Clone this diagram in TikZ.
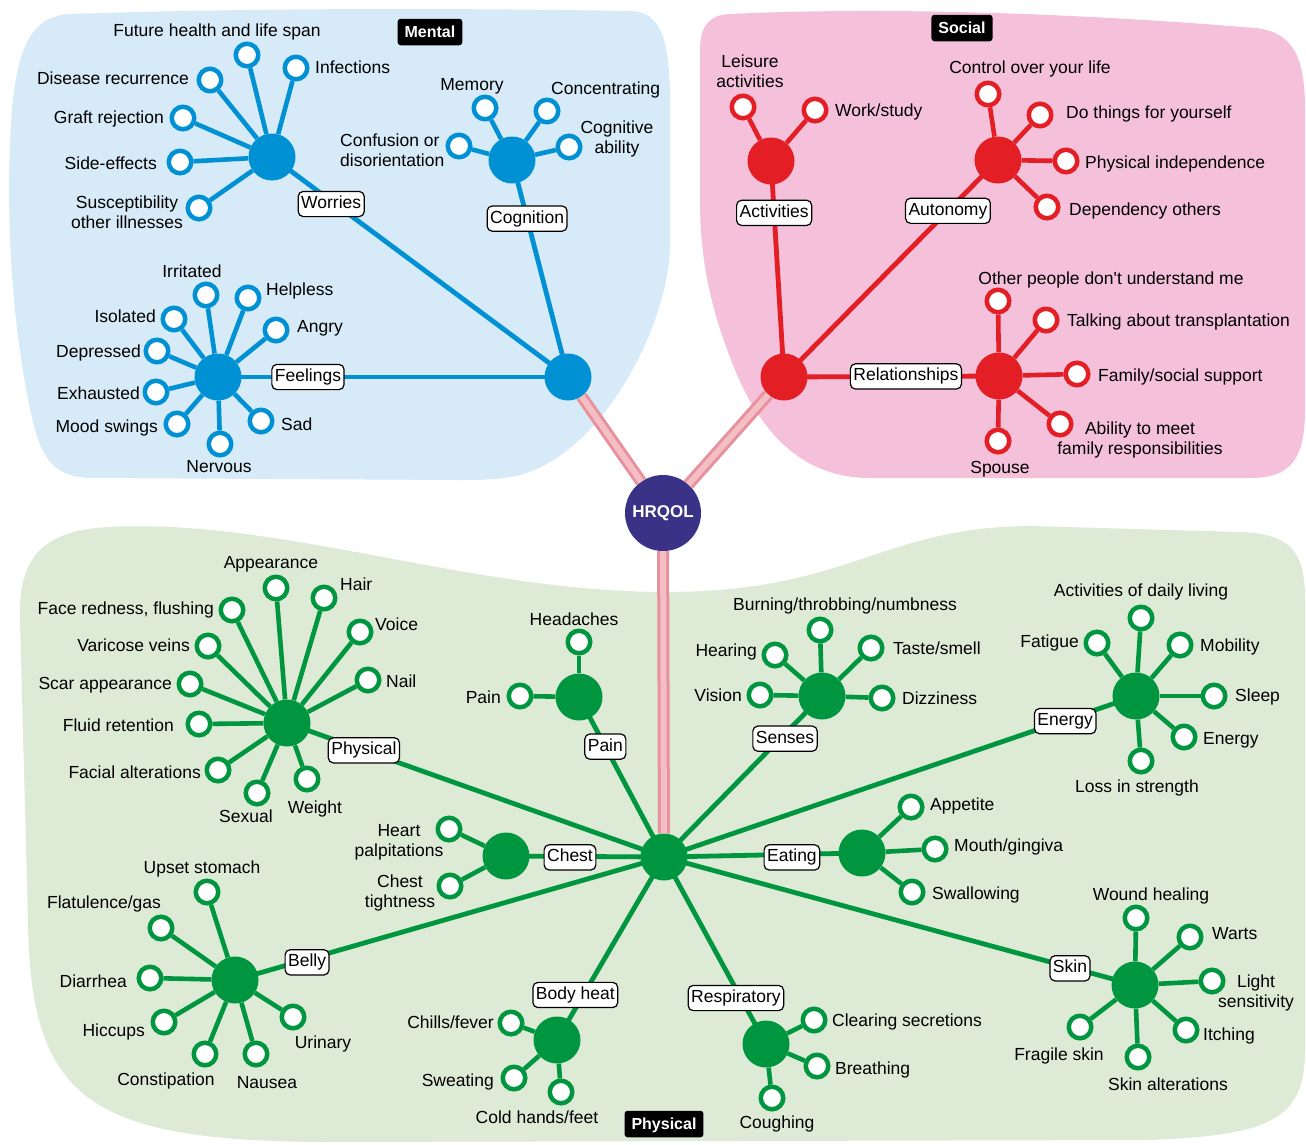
\documentclass[tikz,border=0pt]{standalone}
\usepackage{fontspec}
\setmainfont{Liberation Sans}
\definecolor{mblue}{RGB}{0,144,212}
\definecolor{mbluebg}{RGB}{214,234,248}
\definecolor{sred}{RGB}{227,30,36}
\definecolor{sredbg}{RGB}{245,192,218}
\definecolor{pgreen}{RGB}{0,150,64}
\definecolor{pgreenbg}{RGB}{221,235,214}
\definecolor{hqcol}{RGB}{58,50,135}
\definecolor{stripeout}{RGB}{232,145,156}
\definecolor{stripein}{RGB}{244,190,197}
\newcommand\lf[7]{%
  \node[leaf#1] (#2) at (#3) {};
  \draw[spoke#1] (#4) -- (#2);
  \node[#5] (#2t) at (#6) {#7};}
\begin{document}
\begin{tikzpicture}[x=1pt,y=-1pt,
  hub/.style={circle,inner sep=0,minimum size=47},
  hubB/.style={hub,fill=mblue},
  hubR/.style={hub,fill=sred},
  hubG/.style={hub,fill=pgreen},
  leaf/.style={circle,inner sep=0,minimum size=22.5,fill=white,line width=4.5},
  leafB/.style={leaf,draw=mblue},
  leafR/.style={leaf,draw=sred},
  leafG/.style={leaf,draw=pgreen},
  spoke/.style={line width=4.6},
  spokeB/.style={spoke,draw=mblue},
  spokeR/.style={spoke,draw=sred},
  spokeG/.style={spoke,draw=pgreen},
  mainB/.style={line width=4.8,draw=mblue},
  mainR/.style={line width=4.8,draw=sred},
  mainG/.style={line width=4.8,draw=pgreen},
  txt/.style={font=\fontsize{17.5}{20}\selectfont,inner sep=0,text height=12.6,text depth=0},
  tE/.style={txt,anchor=east},
  tW/.style={txt,anchor=west},
  tC/.style={txt,anchor=center},
  tM/.style={font=\fontsize{17.5}{20}\selectfont,inner sep=0,align=center,anchor=center},
  tML/.style={font=\fontsize{17.5}{20}\selectfont,inner sep=0,align=left,anchor=west},
  lab/.style={draw=black,fill=white,rounded corners=5,line width=1.2,
    font=\fontsize{17.5}{20}\selectfont,inner xsep=3,inner ysep=4.5,text height=12.6,text depth=3.6},
  tag/.style={fill=black,text=white,rounded corners=3,
    font=\bfseries\fontsize{16}{18}\selectfont,inner xsep=7,inner ysep=7.5,text height=11.5,text depth=0},
  hrq/.style={circle,fill=hqcol,text=white,minimum size=76,inner sep=0,
    font=\bfseries\fontsize{17}{19}\selectfont},
  stripe/.style={draw=stripeout,line width=3,double=stripein,double distance=6}
]
\useasboundingbox (0,0) rectangle (1306,1144);
% regions
\fill[mbluebg] (70,14) .. controls (250,8) and (450,8) .. (630,11)
  .. controls (662,12) and (668,40) .. (670,90) -- (670,250)
  .. controls (665,330) and (610,430) .. (545,465)
  .. controls (520,478) and (500,480) .. (460,480) -- (90,478)
  .. controls (60,477) and (45,465) .. (35,430)
  .. controls (10,330) and (5,200) .. (12,110)
  .. controls (18,40) and (35,16) .. (70,14) -- cycle;
\fill[sredbg] (730,14) .. controls (900,6) and (1100,15) .. (1255,28)
  .. controls (1295,32) and (1305,60) .. (1305,110) -- (1305,410)
  .. controls (1305,460) and (1290,478) .. (1250,478) -- (870,478)
  .. controls (800,478) and (760,430) .. (735,370)
  .. controls (715,320) and (700,270) .. (700,200) -- (700,50)
  .. controls (700,25) and (710,15) .. (730,14) -- cycle;
\fill[pgreenbg] (20,620) .. controls (18,560) and (40,530) .. (110,527)
  .. controls (280,518) and (470,592) .. (665,592)
  .. controls (850,592) and (880,527) .. (1030,526) -- (1240,532)
  .. controls (1290,534) and (1305,550) .. (1305,600) -- (1305,1050)
  .. controls (1305,1120) and (1270,1135) .. (1150,1140) -- (320,1142)
  .. controls (90,1140) and (30,1100) .. (28,920) -- cycle;
% tags
\node[tag] (tagM) at (430,32) {Mental};
\node[tag] (tagS) at (962,28) {Social};
\node[tag] (tagP) at (664,1124) {Physical};
% hubs
\node[hrq] (H) at (663,513) {HRQOL};
\node[hubB] (M) at (568,377) {};
\node[hubB] (W) at (272,157) {};
\node[hubB] (C) at (512,160) {};
\node[hubB] (F) at (218,377) {};
\node[hubR] (S) at (784,377) {};
\node[hubR] (A) at (771,161) {};
\node[hubR] (U) at (998,160) {};
\node[hubR] (R) at (999,376) {};
\node[hubG] (P) at (664,857) {};
\node[hubG] (Ph) at (287,723) {};
\node[hubG] (Pa) at (579,697) {};
\node[hubG] (Se) at (822,696) {};
\node[hubG] (En) at (1136,696) {};
\node[hubG] (Ch) at (506,856) {};
\node[hubG] (Ea) at (862,853) {};
\node[hubG] (Be) at (235,980) {};
\node[hubG] (Bh) at (557,1040) {};
\node[hubG] (Rs) at (766,1044) {};
\node[hubG] (Sk) at (1135,985) {};
% HRQOL connectors
\draw[stripe] (H) -- (M);
\draw[stripe] (H) -- (S);
\draw[stripe] (H) -- (P);
% main connectors
\draw[mainB] (M.center) -- node[lab,pos=0.80,yshift=-3] (lw) {Worries} (W.center);
\draw[mainB] (M.center) -- node[lab,pos=0.73] (lc) {Cognition} (C.center);
\draw[mainB] (M.center) -- node[lab,pos=0.743] (lf) {Feelings} (F.center);
\draw[mainR] (S.center) -- node[lab,pos=0.76] (la) {Activities} (A.center);
\draw[mainR] (S.center) -- node[lab,pos=0.766] (lu) {Autonomy} (U.center);
\draw[mainR] (S.center) -- node[lab,pos=0.567] (lr) {Relationships} (R.center);
\draw[mainG] (P.center) -- node[lab,pos=0.796] (lph) {Physical} (Ph.center);
\draw[mainG] (P.center) -- node[lab,pos=0.69] (lpa) {Pain} (Pa.center);
\draw[mainG] (P.center) -- node[lab,pos=0.766,yshift=-5] (lse) {Senses} (Se.center);
\draw[mainG] (P.center) -- node[lab,pos=0.85,yshift=-1] (len) {Energy} (En.center);
\draw[mainG] (P.center) -- node[lab,pos=0.595,yshift=-1] (lch) {Chest} (Ch.center);
\draw[mainG] (P.center) -- node[lab,pos=0.646,yshift=-3] (lea) {Eating} (Ea.center);
\draw[mainG] (P.center) -- node[lab,pos=0.832,yshift=-3] (lbe) {Belly} (Be.center);
\draw[mainG] (P.center) -- node[lab,pos=0.754,xshift=-8] (lbh) {Body heat} (Bh.center);
\draw[mainG] (P.center) -- node[lab,pos=0.754,xshift=-5] (lrs) {Respiratory} (Rs.center);
\draw[mainG] (P.center) -- node[lab,pos=0.862,yshift=-1] (lsk) {Skin} (Sk.center);
% Mental leaves
\lf{B}{l1}{247,55}{W}{tC}{217,30}{Future health and life span}
\lf{B}{l2}{296,68}{W}{tW}{315,67}{Infections}
\lf{B}{l3}{210,80}{W}{tE}{189,78}{Disease recurrence}
\lf{B}{l4}{183,118}{W}{tE}{164,117}{Graft rejection}
\lf{B}{l5}{180,162}{W}{tE}{157,163}{Side-effects}
\lf{B}{l6}{199,208}{W}{tM}{127,212}{Susceptibility\\other illnesses}
\lf{B}{l7}{485,108}{C}{tC}{472,84}{Memory}
\lf{B}{l8}{547,111}{C}{tW}{551,88}{Concentrating}
\lf{B}{l9}{569,147}{C}{tM}{617,139}{Cognitive\\ability}
\lf{B}{l10}{459,146}{C}{tML}{340,150}{Confusion or\\disorientation}
\lf{B}{l11}{206,295}{F}{tC}{192,271}{Irritated}
\lf{B}{l12}{248,298}{F}{tW}{266,289}{Helpless}
\lf{B}{l13}{276,330}{F}{tW}{297,326}{Angry}
\lf{B}{l14}{174,319}{F}{tE}{156,316}{Isolated}
\lf{B}{l15}{157,351}{F}{tE}{141,351}{Depressed}
\lf{B}{l16}{156,392}{F}{tE}{140,393}{Exhausted}
\lf{B}{l17}{177,424}{F}{tE}{158,426}{Mood swings}
\lf{B}{l18}{220,444}{F}{tC}{219,466}{Nervous}
\lf{B}{l19}{261,421}{F}{tW}{281,424}{Sad}
% Social leaves
\lf{R}{l20}{743,107}{A}{tM}{750,71}{Leisure\\activities}
\lf{R}{l21}{815,110}{A}{tW}{835,110}{Work/study}
\lf{R}{l22}{988,94}{U}{tC}{1030,67}{Control over your life}
\lf{R}{l23}{1040,115}{U}{tW}{1066,112}{Do things for yourself}
\lf{R}{l24}{1066,161}{U}{tW}{1085,162}{Physical independence}
\lf{R}{l25}{1047,207}{U}{tW}{1069,209}{Dependency others}
\lf{R}{l26}{998,301}{R}{tC}{1111,278}{Other people don\textquotesingle t understand me}
\lf{R}{l27}{1046,320}{R}{tW}{1067,320}{Talking about transplantation}
\lf{R}{l28}{1077,374}{R}{tW}{1098,375}{Family/social support}
\lf{R}{l29}{1060,424}{R}{tM}{1140,440}{Ability to meet\\family responsibilities}
\lf{R}{l30}{998,441}{R}{tC}{1000,467}{Spouse}
% Physical leaves
\lf{G}{l31}{276,588}{Ph}{tC}{271,562}{Appearance}
\lf{G}{l32}{324,598}{Ph}{tW}{340,584}{Hair}
\lf{G}{l33}{360,632}{Ph}{tW}{375,624}{Voice}
\lf{G}{l34}{368,680}{Ph}{tW}{386,681}{Nail}
\lf{G}{l35}{232,610}{Ph}{tE}{214,608}{Face redness, flushing}
\lf{G}{l36}{208,646}{Ph}{tE}{190,645}{Varicose veins}
\lf{G}{l37}{190,684}{Ph}{tE}{172,683}{Scar appearance}
\lf{G}{l38}{199,724}{Ph}{tE}{174,725}{Fluid retention}
\lf{G}{l39}{218,770}{Ph}{tE}{201,772}{Facial alterations}
\lf{G}{l40}{257,793}{Ph}{tC}{246,816}{Sexual}
\lf{G}{l41}{307,779}{Ph}{tC}{315,807}{Weight}
\lf{G}{l42}{579,642}{Pa}{tC}{574,619}{Headaches}
\lf{G}{l43}{520,696}{Pa}{tE}{501,697}{Pain}
\lf{G}{l44}{820,630}{Se}{tC}{845,604}{Burning/throbbing/numbness}
\lf{G}{l45}{775,655}{Se}{tE}{757,650}{Hearing}
\lf{G}{l46}{871,648}{Se}{tW}{893,648}{Taste/smell}
\lf{G}{l47}{760,695}{Se}{tE}{742,695}{Vision}
\lf{G}{l48}{882,698}{Se}{tW}{902,698}{Dizziness}
\lf{G}{l49}{1141,618}{En}{tC}{1141,590}{Activities of daily living}
\lf{G}{l50}{1097,643}{En}{tE}{1079,641}{Fatigue}
\lf{G}{l51}{1180,645}{En}{tW}{1200,645}{Mobility}
\lf{G}{l52}{1214,696}{En}{tW}{1235,695}{Sleep}
\lf{G}{l53}{1184,737}{En}{tW}{1203,738}{Energy}
\lf{G}{l54}{1141,761}{En}{tC}{1137,786}{Loss in strength}
\lf{G}{l55}{449,829}{Ch}{tM}{399,842}{Heart\\palpitations}
\lf{G}{l56}{450,886}{Ch}{tM}{400,893}{Chest\\tightness}
\lf{G}{l57}{911,807}{Ea}{tW}{930,804}{Appetite}
\lf{G}{l58}{935,849}{Ea}{tW}{954,845}{Mouth/gingiva}
\lf{G}{l59}{912,892}{Ea}{tW}{932,893}{Swallowing}
\lf{G}{l60}{207,892}{Be}{tC}{202,867}{Upset stomach}
\lf{G}{l61}{161,928}{Be}{tC}{104,902}{Flatulence/gas}
\lf{G}{l62}{150,978}{Be}{tE}{127,981}{Diarrhea}
\lf{G}{l63}{164,1022}{Be}{tE}{145,1030}{Hiccups}
\lf{G}{l64}{205,1054}{Be}{tC}{166,1079}{Constipation}
\lf{G}{l65}{256,1054}{Be}{tC}{267,1082}{Nausea}
\lf{G}{l66}{293,1017}{Be}{tC}{323,1042}{Urinary}
\lf{G}{l67}{511,1023}{Bh}{tE}{494,1022}{Chills/fever}
\lf{G}{l68}{514,1078}{Bh}{tE}{494,1080}{Sweating}
\lf{G}{l69}{561,1092}{Bh}{tC}{537,1117}{Cold hands/feet}
\lf{G}{l70}{814,1020}{Rs}{tW}{832,1020}{Clearing secretions}
\lf{G}{l71}{817,1066}{Rs}{tW}{835,1068}{Breathing}
\lf{G}{l72}{772,1098}{Rs}{tC}{777,1122}{Coughing}
\lf{G}{l73}{1136,918}{Sk}{tC}{1151,894}{Wound healing}
\lf{G}{l74}{1190,937}{Sk}{tW}{1212,933}{Warts}
\lf{G}{l75}{1212,981}{Sk}{tM}{1256,993}{Light\\sensitivity}
\lf{G}{l76}{1186,1030}{Sk}{tW}{1203,1034}{Itching}
\lf{G}{l77}{1138,1057}{Sk}{tC}{1168,1084}{Skin alterations}
\lf{G}{l78}{1080,1027}{Sk}{tC}{1059,1054}{Fragile skin}
\end{tikzpicture}
\end{document}
